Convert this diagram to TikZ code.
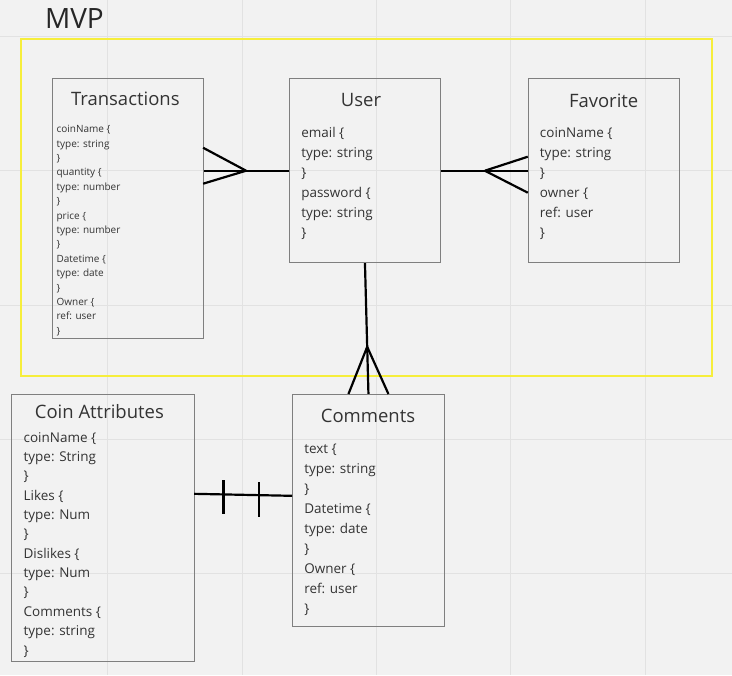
\documentclass[tikz,border=0pt]{standalone}
\usepackage{fontspec}
\setmainfont{Open Sans}
\usetikzlibrary{calc}

\definecolor{paper}{HTML}{F2F2F2}
\definecolor{gridgray}{HTML}{E2E2E2}
\definecolor{mvpyellow}{HTML}{F6EE3C}
\definecolor{inkgray}{HTML}{333333}
\definecolor{boxgray}{HTML}{7F7F7F}

\begin{document}
\begin{tikzpicture}[x=1pt, y=-1pt,
    entity/.style={draw=boxgray, line width=0.9pt, inner sep=0pt,
      anchor=north west, minimum width=#1},
    entity/.default=151pt,
    title/.style={text=inkgray, inner sep=0pt,
      font=\fontsize{18.5}{22}\selectfont},
    attrs/.style={text=inkgray, inner sep=0pt, anchor=north west,
      align=left, font=\fontsize{13.5}{20}\selectfont},
    smallattrs/.style={attrs, font=\fontsize{10}{14.4}\selectfont},
    link/.style={black, line width=2.2pt}]

    % paper and grid
    \fill [paper] (0,0) rectangle (732,675);
    \foreach \gx in {107,242,376.5,511,646}
      \draw [gridgray, line width=1pt] (\gx,0) -- (\gx,675);
    \foreach \gy in {36,170,305,439.5,574}
      \draw [gridgray, line width=1pt] (0,\gy) -- (732,\gy);

    % MVP frame
    \node [text=black!85, inner sep=0pt, font=\fontsize{28}{32}\selectfont]
      (mvp) at (74,18) {MVP};
    \draw [mvpyellow, line width=2pt] (21,39) rectangle (712,376);

    % entities
    \node [entity, minimum height=260pt] (trans) at (52,78) {};
    \node [title] (transtitle) at (125,98) {Transactions};
    \node [smallattrs] (transbody) at (56,125) {coinName \{\\type: string\\\}\\
      quantity \{\\type: number\\\}\\price \{\\type: number\\\}\\
      Datetime \{\\type: date\\\}\\Owner \{\\ref: user\\\}};

    \node [entity, minimum height=184pt] (user) at (289,78) {};
    \node [title] (usertitle) at (361,100) {User};
    \node [attrs] (userbody) at (301,127) {email \{\\type: string\\\}\\
      password \{\\type: string\\\}};

    \node [entity, minimum height=184pt] (fav) at (528,78) {};
    \node [title] (favtitle) at (604,100) {Favorite};
    \node [attrs] (favbody) at (540,127) {coinName \{\\type: string\\\}\\
      owner \{\\ref: user\\\}};

    \node [entity=183pt, minimum height=267pt] (coin) at (11,394) {};
    \node [title] (cointitle) at (99,412) {Coin Attributes};
    \node [attrs, font=\fontsize{13.5}{19.4}\selectfont] (coinbody) at (23,432)
      {coinName \{\\type: String\\\}\\
      Likes \{\\type: Num\\\}\\Dislikes \{\\type: Num\\\}\\
      Comments \{\\type: string\\\}};

    \node [entity=152pt, minimum height=232pt] (comm) at (292,394) {};
    \node [title] (commtitle) at (368,416) {Comments};
    \node [attrs] (commbody) at (304,444) {text \{\\type: string\\\}\\
      Datetime \{\\type: date\\\}\\Owner \{\\ref: user\\\}};

    % user -- transactions (many)
    \coordinate (tu) at (user.west -| trans.east);
    \coordinate (tufoot) at ($(tu)+(42,0)$);
    \draw [link] (user.west) -- (tu);
    \draw [link] (tufoot) -- ($(tu)+(-1,-23)$);
    \draw [link] (tufoot) -- ($(tu)+(-1,13)$);

    % user -- favorite (many)
    \coordinate (ufoot) at ($(fav.west)+(-43,0)$);
    \draw [link] (user.east) -- (fav.west);
    \draw [link] (ufoot) -- ($(fav.west)+(0,-14)$);
    \draw [link] (ufoot) -- ($(fav.west)+(0,22)$);

    % user -- comments (many)
    \coordinate (ucfoot) at ($(user.south)!0.64!(comm.north)$);
    \draw [link] (user.south) -- (comm.north);
    \draw [link] (ucfoot) -- ($(comm.north)+(-20,0)$);
    \draw [link] (ucfoot) -- ($(comm.north)+(20,0)$);

    % coin attributes -- comments (one and only one)
    \coordinate (cc) at (194,494);
    \coordinate (cm) at (292,496);
    \draw [link] (cc) -- (cm);
    \draw [link] ($(cc)!0.3!(cm)+(0,-14)$) -- ($(cc)!0.3!(cm)+(0,20)$);
    \draw [link] ($(cc)!0.66!(cm)+(0,-13)$) -- ($(cc)!0.66!(cm)+(0,22)$);
  \end{tikzpicture}
\end{document}
